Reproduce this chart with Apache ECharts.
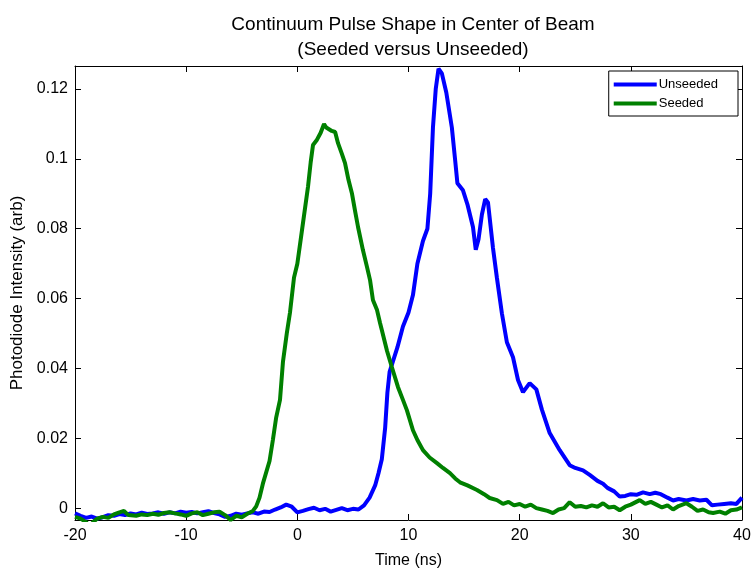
<!DOCTYPE html>
<html>
<head>
<meta charset="utf-8">
<script src="https://cdn.jsdelivr.net/npm/echarts@6/dist/echarts.min.js"></script>
<style>
    html, body { margin: 0; padding: 0; background: #fff; }
    #chart { width: 754px; height: 574px; }
</style>
</head>
<body>
<div id="chart"></div>
<script>
// time axis (ns) and photodiode values
var unseededTime = [-20, -19.5, -19, -18.5, -18, -17.5, -17, -16.5, -16, -15.5, -15, -14.5, -14, -13.5, -13, -12.5, -12, -11.5, -11, -10.5,
    -10, -9.5, -9, -8.5, -8, -7.5, -7, -6.5, -6, -5.5, -5, -4.5, -4, -3.5, -3, -2.5, -2, -1.5, -1, -0.5,
    0, 0.5, 1, 1.5, 2, 2.5, 3, 3.5, 4, 4.5, 5, 5.5, 6, 6.5, 7, 7.3, 7.6, 7.9, 8.1, 8.3,
    8.6, 9.0, 9.5, 10.0, 10.4, 10.8, 11.3, 11.7, 11.95, 12.2, 12.45, 12.7, 13.0, 13.4, 13.9, 14.2, 14.4, 14.9, 15.3, 15.8,
    16.05, 16.3, 16.6, 16.9, 17.15, 17.6, 17.95, 18.4, 18.85, 19.4, 19.85, 20.3, 20.9, 21.5, 22.0, 22.7, 23.6, 24.5, 25.0, 25.7,
    26.3, 27.0, 27.5, 27.9, 28.5, 29.0, 29.5, 30.0, 30.5, 31.1, 31.7, 32.2, 32.7, 33.3, 33.8, 34.3, 35.0, 35.6, 36.2, 36.8,
    37.3, 37.8, 38.4, 39.0, 39.5, 40];
var unseededValue = [-0.0015, -0.0022, -0.0028, -0.0024, -0.0030, -0.0026, -0.0020, -0.0022, -0.0017, -0.0020, -0.0015, -0.0018, -0.0013, -0.0017, -0.0015, -0.0012, -0.0016, -0.0012, -0.0015, -0.0010,
    -0.0013, -0.0011, -0.0015, -0.0012, -0.0009, -0.0014, -0.0018, -0.0025, -0.0022, -0.0016, -0.0019, -0.0015, -0.0012, -0.0016, -0.0010, -0.0011, -0.0004, 0.0002, 0.0010, 0.0004,
    -0.0012, -0.0008, -0.0003, 0.0001, -0.0006, -0.0002, -0.0010, -0.0005, 0.0000, -0.0006, -0.0002, -0.0004, 0.0008, 0.0030, 0.0065, 0.0100, 0.0140, 0.0230, 0.0330, 0.0390,
    0.0420, 0.0460, 0.0520, 0.0560, 0.0610, 0.0700, 0.0765, 0.0800, 0.0900, 0.1090, 0.1200, 0.1258, 0.1245, 0.1190, 0.1090, 0.0995, 0.0930, 0.0910, 0.0870, 0.0805,
    0.0740, 0.0770, 0.0840, 0.0885, 0.0875, 0.0745, 0.0660, 0.0558, 0.0475, 0.0432, 0.0367, 0.0332, 0.0358, 0.0340, 0.0282, 0.0215, 0.0166, 0.0123, 0.0115, 0.0108,
    0.0095, 0.0078, 0.0070, 0.0058, 0.0048, 0.0033, 0.0035, 0.0040, 0.0038, 0.0045, 0.0040, 0.0044, 0.0040, 0.0030, 0.0022, 0.0026, 0.0022, 0.0026, 0.0022, 0.0024,
    0.0008, 0.0010, 0.0012, 0.0014, 0.0012, 0.0030];

var seededTime = [-20, -19.5, -19, -18.7, -18.3, -18, -17.5, -17, -16.5, -16, -15.6, -15.2, -14.5, -14, -13.5, -13, -12.5, -12, -11.5, -11,
    -10.5, -10, -9.5, -9, -8.5, -8, -7.5, -7, -6.5, -6, -5.5, -5, -4.5, -4.0, -3.7, -3.4, -3.1, -2.5, -2.2, -1.9,
    -1.56, -1.29, -0.95, -0.66, -0.3, 0.0, 0.42, 0.96, 1.2, 1.41, 1.77, 2.1, 2.4, 2.6, 2.76, 3.1, 3.4, 3.66, 4.0, 4.29,
    4.6, 4.92, 5.2, 5.46, 5.9, 6.27, 6.54, 6.8, 7.17, 7.44, 7.6, 8.07, 8.5, 9.05, 9.5, 9.86, 10.4, 10.8, 11.3, 11.9,
    12.56, 13.1, 13.73, 14.2, 14.63, 15.3, 16.16, 16.8, 17.3, 17.96, 18.5, 19.0, 19.5, 20.0, 20.5, 21.0, 21.5, 22.0, 22.5, 23.0,
    23.5, 24.0, 24.5, 25.0, 25.5, 26.0, 26.5, 27.0, 27.5, 28.0, 28.5, 29.0, 29.5, 30.0, 30.8, 31.3, 31.8, 32.3, 32.8, 33.3,
    33.8, 34.3, 35.0, 35.5, 36.0, 36.5, 37.0, 37.4, 38.0, 38.5, 39.0, 39.5, 40];
var seededValue = [-0.0025, -0.0030, -0.0040, -0.0052, -0.0038, -0.0030, -0.0025, -0.0028, -0.0018, -0.0012, -0.0008, -0.0020, -0.0022, -0.0018, -0.0020, -0.0016, -0.0019, -0.0014, -0.0012, -0.0015,
    -0.0018, -0.0022, -0.0015, -0.0012, -0.0020, -0.0016, -0.0012, -0.0010, -0.0020, -0.0034, -0.0022, -0.0026, -0.0016, -0.0008, 0.0005, 0.0030, 0.0070, 0.0135, 0.0195, 0.0260,
    0.0310, 0.0420, 0.0500, 0.0560, 0.0660, 0.0700, 0.0796, 0.0920, 0.0990, 0.1040, 0.1055, 0.1075, 0.1100, 0.1090, 0.1085, 0.1080, 0.1077, 0.1045, 0.1015, 0.0988,
    0.0940, 0.0900, 0.0850, 0.0805, 0.0739, 0.0690, 0.0653, 0.0596, 0.0567, 0.0530, 0.0510, 0.0450, 0.0404, 0.0347, 0.0310, 0.0280, 0.0223, 0.0195, 0.0166, 0.0145,
    0.0129, 0.0115, 0.0100, 0.0085, 0.0074, 0.0065, 0.0052, 0.0040, 0.0029, 0.0023, 0.0012, 0.0018, 0.0008, 0.0012, 0.0004, 0.0010, 0.0000, -0.0004, -0.0008, -0.0014,
    -0.0004, 0.0000, 0.0017, 0.0004, 0.0006, 0.0002, 0.0008, 0.0004, 0.0014, 0.0002, 0.0004, -0.0006, 0.0004, 0.0010, 0.0023, 0.0012, 0.0018, 0.0010, 0.0002, 0.0008,
    -0.0004, 0.0006, 0.0014, 0.0004, -0.0008, -0.0004, -0.0012, -0.0014, -0.0010, -0.0016, -0.0006, -0.0004, 0.0002];

var yTicks = [0, 0.02, 0.04, 0.06, 0.08, 0.1, 0.12];

function pairs(xs, ys) {
    var out = [];
    for (var i = 0; i < xs.length; i++) out.push([xs[i], ys[i]]);
    return out;
}

var FONT = 'Liberation Sans, Arial, Helvetica, sans-serif';
var myChart = echarts.init(document.getElementById('chart'));

var tickStyle = { show: true, inside: true, length: 6, lineStyle: { color: '#000', width: 1 } };
var lineStyleAxis = { show: true, onZero: false, lineStyle: { color: '#000', width: 1 } };

var option = {
    animation: false,
    backgroundColor: '#fff',
    title: {
        text: 'Continuum Pulse Shape in Center of Beam\n(Seeded versus Unseeded)',
        left: 408,
        top: 7,
        textAlign: 'center',
        textStyle: { fontFamily: FONT, fontSize: 19, fontWeight: 'normal', color: '#000', lineHeight: 25 }
    },
    legend: {
        orient: 'vertical',
        right: 16,
        top: 71,
        padding: [7, 20, 6, 5],
        itemGap: 6,
        itemWidth: 43,
        itemHeight: 4,
        icon: 'rect',
        borderColor: '#000',
        borderWidth: 1,
        backgroundColor: '#fff',
        textStyle: { fontFamily: FONT, fontSize: 13, color: '#000', padding: [0, 0, 0, -3] },
        data: ['Unseeded', 'Seeded']
    },
    grid: { left: 75, right: 12, top: 66, bottom: 54, containLabel: false },
    xAxis: [{
        type: 'value',
        min: -20,
        max: 40,
        interval: 10,
        name: 'Time (ns)',
        nameLocation: 'middle',
        nameGap: 33,
        nameTextStyle: { fontFamily: FONT, fontSize: 16, color: '#000' },
        axisLine: lineStyleAxis,
        axisTick: tickStyle,
        axisLabel: { fontFamily: FONT, fontSize: 16, color: '#000', margin: 8 },
        splitLine: { show: false }
    }, {
        type: 'value',
        position: 'top',
        min: -20,
        max: 40,
        interval: 10,
        axisLine: lineStyleAxis,
        axisTick: tickStyle,
        axisLabel: { show: false },
        splitLine: { show: false }
    }],
    yAxis: [{
        type: 'value',
        min: -0.0034,
        max: 0.1266,
        name: 'Photodiode Intensity (arb)',
        nameLocation: 'middle',
        nameRotate: 90,
        nameGap: 48,
        nameTextStyle: { fontFamily: FONT, fontSize: 17, color: '#000' },
        axisLine: lineStyleAxis,
        axisTick: Object.assign({ customValues: yTicks }, tickStyle),
        axisLabel: {
            customValues: yTicks,
            fontFamily: FONT, fontSize: 16, color: '#000', margin: 7,
            formatter: function (v) { return String(parseFloat(v.toFixed(2))); }
        },
        splitLine: { show: false }
    }, {
        type: 'value',
        position: 'right',
        min: -0.0034,
        max: 0.1266,
        axisLine: lineStyleAxis,
        axisTick: Object.assign({ customValues: yTicks }, tickStyle),
        axisLabel: { show: false, customValues: yTicks },
        splitLine: { show: false }
    }],
    series: [
        {
            name: 'Unseeded',
            type: 'line',
            xAxisIndex: 0,
            yAxisIndex: 0,
            showSymbol: false,
            color: '#0000ff',
            lineStyle: { color: '#0000ff', width: 4 },
            data: pairs(unseededTime, unseededValue)
        },
        {
            name: 'Seeded',
            type: 'line',
            xAxisIndex: 0,
            yAxisIndex: 0,
            showSymbol: false,
            color: '#008000',
            lineStyle: { color: '#008000', width: 4 },
            data: pairs(seededTime, seededValue)
        }
    ]
};
myChart.setOption(option);
</script>
</body>
</html>
